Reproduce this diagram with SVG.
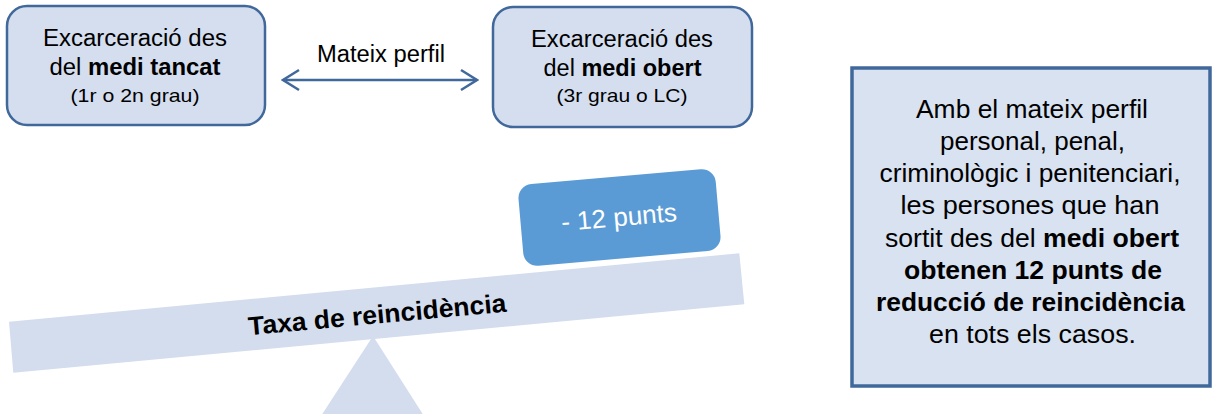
<svg xmlns="http://www.w3.org/2000/svg" width="1212" height="414" viewBox="0 0 1212 414">
  <defs>
    <style>
      text { font-family: "Liberation Sans", Arial, sans-serif; fill: #000; }
      .box { fill: #D4DEEF; stroke: #41689A; stroke-width: 2.5; }
      .note { fill: #D8E2F0; stroke: #41689A; stroke-width: 3.5; }
      .t { font-size: 23px; text-anchor: middle; }
      .s { font-size: 19px; text-anchor: middle; }
      .n { font-size: 25px; text-anchor: middle; }
      .b { font-weight: bold; }
      .lite { fill: #D3DDEE; }
      .conn { fill: none; stroke: #41689A; stroke-width: 2.5; }
    </style>
    <marker id="chev" viewBox="0 0 20 24" refX="18" refY="12" markerWidth="20" markerHeight="24" markerUnits="userSpaceOnUse" orient="auto-start-reverse">
      <path d="M2,2 L18,12 L2,22" fill="none" stroke="#41689A" stroke-width="2.5"/>
    </marker>
  </defs>

  <g id="fulcrum">
    <polygon class="lite" points="373,336 321,416 424,416"/>
  </g>

  <g id="beam">
    <polygon class="lite" points="9,321.7 739.3,253.3 744.3,304.3 13.3,372.7"/>
    <text class="b" font-size="26" text-anchor="middle" x="378" y="323.4" textLength="259" lengthAdjust="spacingAndGlyphs" transform="rotate(-5.2 378 323.4)">Taxa de reincidència</text>
  </g>

  <g id="tag">
    <g transform="rotate(-5 619.5 217.5)">
      <rect x="520.5" y="176.5" width="198" height="82" rx="14" fill="#5B9BD5"/>
      <text font-size="26" text-anchor="middle" x="619" y="226" textLength="116" lengthAdjust="spacingAndGlyphs" style="fill:#fff">- 12 punts</text>
    </g>
  </g>

  <g id="closed">
    <rect class="box" x="7" y="6" width="258" height="119" rx="20"/>
    <text class="t" x="135" y="46" textLength="184" lengthAdjust="spacingAndGlyphs">Excarceració des</text>
    <text class="t" x="135" y="75" textLength="171" lengthAdjust="spacingAndGlyphs">del <tspan class="b">medi tancat</tspan></text>
    <text class="s" x="135" y="101.7" textLength="129" lengthAdjust="spacingAndGlyphs">(1r o 2n grau)</text>
  </g>

  <g id="open">
    <rect class="box" x="493" y="7" width="259" height="120" rx="20"/>
    <text class="t" x="622" y="46.5" textLength="182" lengthAdjust="spacingAndGlyphs">Excarceració des</text>
    <text class="t" x="622.5" y="76" textLength="158" lengthAdjust="spacingAndGlyphs">del <tspan class="b">medi obert</tspan></text>
    <text class="s" x="622" y="101.7" textLength="131" lengthAdjust="spacingAndGlyphs">(3r grau o LC)</text>
  </g>

  <g id="connectors">
    <line class="conn" x1="283" y1="80" x2="477" y2="80" marker-start="url(#chev)" marker-end="url(#chev)"/>
    <text class="t" x="381" y="62.3" textLength="128" lengthAdjust="spacingAndGlyphs">Mateix perfil</text>
  </g>

  <g id="note">
    <rect class="note" x="852" y="68" width="358" height="318"/>
    <text class="n" x="1032" y="118.3" textLength="232" lengthAdjust="spacingAndGlyphs">Amb el mateix perfil</text>
    <text class="n" x="1032.5" y="150" textLength="185" lengthAdjust="spacingAndGlyphs">personal, penal,</text>
    <text class="n" x="1030" y="181.7" textLength="301" lengthAdjust="spacingAndGlyphs">criminològic i penitenciari,</text>
    <text class="n" x="1030" y="214" textLength="259" lengthAdjust="spacingAndGlyphs">les persones que han</text>
    <text class="n" x="1032" y="246.7" textLength="294" lengthAdjust="spacingAndGlyphs">sortit des del <tspan class="b">medi obert</tspan></text>
    <text class="n b" x="1033" y="278.5" textLength="258" lengthAdjust="spacingAndGlyphs">obtenen 12 punts de</text>
    <text class="n b" x="1030.5" y="310.7" textLength="309" lengthAdjust="spacingAndGlyphs">reducció de reincidència</text>
    <text class="n" x="1032.5" y="342.7" textLength="207" lengthAdjust="spacingAndGlyphs">en tots els casos.</text>
  </g>
</svg>
